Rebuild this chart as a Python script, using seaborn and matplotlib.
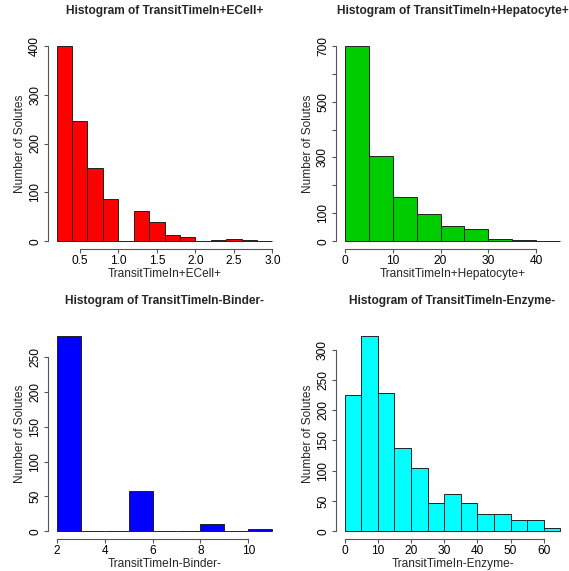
import numpy as np
import pandas as pd
import matplotlib
matplotlib.use("Agg")
import matplotlib.pyplot as plt
import seaborn as sns

# bin edges and counts
ecell_edges = [0.2, 0.4, 0.6, 0.8, 1.0, 1.2, 1.4, 1.6, 1.8, 2.0, 2.2, 2.4, 2.6, 2.8, 3.0]
ecell_counts = [400, 247, 149, 86, 0, 62, 39, 12, 8, 0, 2, 4, 2, 1]

hepato_edges = [0, 5, 10, 15, 20, 25, 30, 35, 40, 45]
hepato_counts = [700, 306, 157, 99, 56, 42, 7, 4, 0]

binder_edges = [2, 3, 4, 5, 6, 7, 8, 9, 10, 11]
binder_counts = [281, 0, 0, 58, 0, 0, 11, 0, 3]

enzyme_edges = [0, 5, 10, 15, 20, 25, 30, 35, 40, 45, 50, 55, 60, 65]
enzyme_counts = [226, 323, 229, 137, 105, 46, 61, 46, 29, 28, 18, 18, 5]

names = ["TransitTimeIn+ECell+", "TransitTimeIn+Hepatocyte+",
         "TransitTimeIn-Binder-", "TransitTimeIn-Enzyme-"]
colors = ["#FF0000", "#00CD00", "#0000FF", "#00FFFF"]

ecell_xticks = [0.5, 1.0, 1.5, 2.0, 2.5, 3.0]
hepato_xticks = [0, 10, 20, 30, 40]
binder_xticks = [2, 4, 6, 8, 10]
enzyme_xticks = [0, 10, 20, 30, 40, 50, 60]

ecell_yticks = [0, 100, 200, 300, 400]
hepato_yticks = [0, 100, 200, 300, 400, 500, 600, 700]
hepato_ylabels = ["0", "100", "", "300", "", "500", "", "700"]
binder_yticks = [0, 50, 100, 150, 200, 250]
enzyme_yticks = [0, 50, 100, 150, 200, 250, 300]

sns.set_style("ticks")
plt.rcParams["font.family"] = ["Liberation Sans", "DejaVu Sans"]

fig = plt.figure(figsize=(5.69, 5.71), dpi=100)

# axes boxes in figure fractions (R mfrow=c(2,2) look)
positions = [
    [0.0844, 0.5639, 0.4095, 0.3695],
    [0.5905, 0.5639, 0.4095, 0.3695],
    [0.0844, 0.0560, 0.4095, 0.3695],
    [0.5905, 0.0560, 0.4095, 0.3695],
]

panels = [
    (ecell_edges, ecell_counts, ecell_xticks, ecell_yticks, None),
    (hepato_edges, hepato_counts, hepato_xticks, hepato_yticks, hepato_ylabels),
    (binder_edges, binder_counts, binder_xticks, binder_yticks, None),
    (enzyme_edges, enzyme_counts, enzyme_xticks, enzyme_yticks, None),
]

axis_col = "#555555"
fs = 8.6

for i, (edges, counts, xt, yt, yl) in enumerate(panels):
    ax = fig.add_axes(positions[i])
    e = np.array(edges, dtype=float)
    df = pd.DataFrame({"mid": (e[:-1] + e[1:]) / 2, "n": counts})
    sns.histplot(data=df, x="mid", weights="n", bins=list(e), ax=ax,
                 color=colors[i], alpha=1, edgecolor="#222222", linewidth=0.7)

    rng = e[-1] - e[0]
    ax.set_xlim(e[0] - 0.04 * rng, e[-1] + 0.04 * rng)
    ymax = max(counts)
    ax.set_ylim(-0.04 * ymax, 1.04 * ymax)

    ax.set_xticks(xt)
    if i == 0:
        ax.set_xticklabels([f"{v:.1f}" for v in xt])
    ax.set_yticks(yt)
    ax.set_yticklabels(yl if yl else [str(v) for v in yt], rotation=90, va="center")

    for s in ["top", "right"]:
        ax.spines[s].set_visible(False)
    ax.spines["bottom"].set_bounds(xt[0], xt[-1])
    ax.spines["left"].set_bounds(yt[0], yt[-1])
    for s in ["bottom", "left"]:
        ax.spines[s].set_color(axis_col)
        ax.spines[s].set_linewidth(0.8)
    ax.tick_params(direction="out", length=3, width=0.8, color=axis_col,
                   labelsize=fs, labelcolor="black")
    ax.tick_params(axis="x", pad=1.5)
    ax.tick_params(axis="y", pad=2)

    ax.set_title("Histogram of " + names[i], fontsize=8.6, fontweight="bold",
                 y=1.09, va="center")
    ax.set_xlabel(names[i], fontsize=fs)
    ax.xaxis.set_label_coords(0.5, -0.118)
    ax.xaxis.label.set_va("center")
    ax.set_ylabel("Number of Solutes", fontsize=fs)
    ax.yaxis.set_label_coords(-0.122, 0.5)
    ax.yaxis.label.set_va("center")

fig.savefig("out.png", dpi=100)
